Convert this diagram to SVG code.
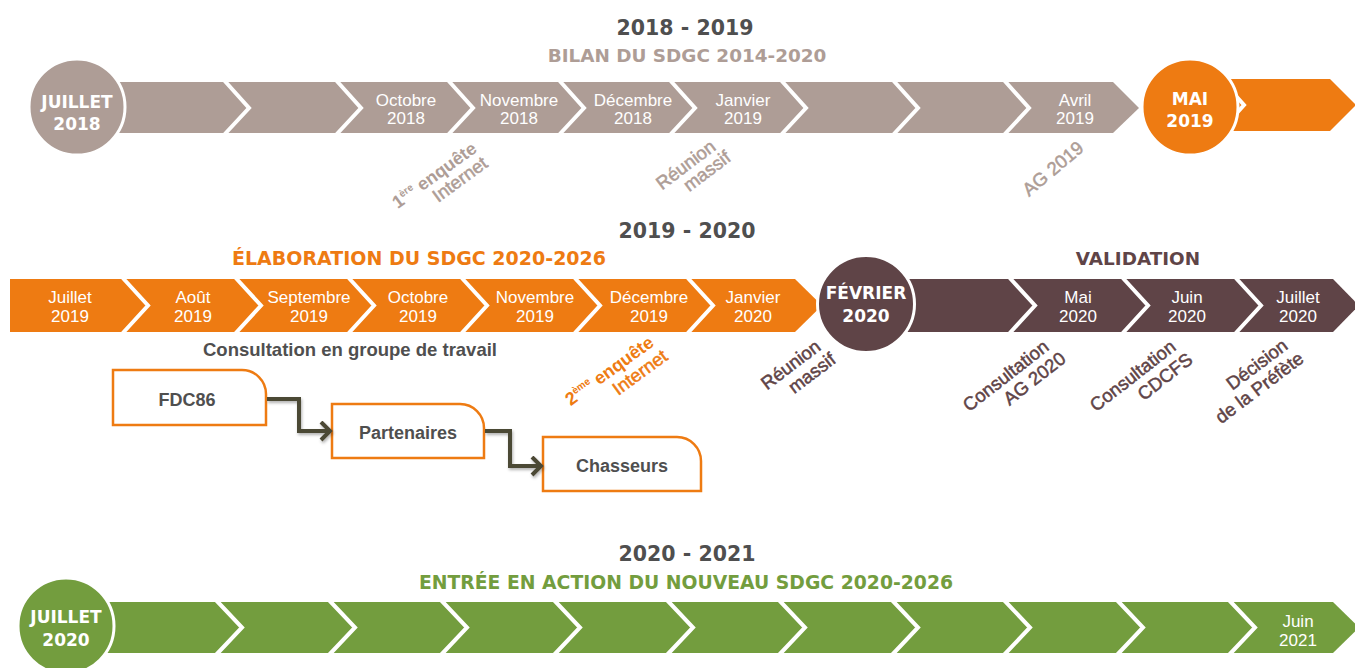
<svg xmlns="http://www.w3.org/2000/svg" width="1355" height="668" viewBox="0 0 1355 668">
<style>
.t{font-family:"DejaVu Sans",Verdana,sans-serif;font-weight:bold;text-anchor:middle}
.lbl{font-family:"Liberation Sans",Arial,sans-serif;font-size:17px;fill:#fff;text-anchor:middle}
.circ{font-family:"DejaVu Sans",Verdana,sans-serif;font-weight:bold;font-size:17px;fill:#fff;text-anchor:middle}
.gap{fill:none;stroke:#fff;stroke-width:4;stroke-linejoin:miter}
.ring{stroke:#fff;stroke-width:3}
.rot{font-family:"Liberation Sans",Arial,sans-serif;font-size:18.5px;text-anchor:end;stroke-width:0.5}
.rotb{font-family:"Liberation Sans",Arial,sans-serif;font-size:18px;font-weight:bold;text-anchor:end;stroke-width:0}
.box{fill:#fff;stroke:#ee7b12;stroke-width:2.5}
.boxt{font-family:"Liberation Sans",Arial,sans-serif;font-weight:bold;font-size:18px;fill:#4f4f4f;text-anchor:middle}
.conn{fill:none;stroke:#4c4835;stroke-width:4;stroke-linejoin:miter}
</style>
<defs>
<marker id="arr" markerUnits="userSpaceOnUse" markerWidth="16" markerHeight="22" refX="11" refY="10" orient="auto">
<path d="M2,1 L11,10 L2,19" fill="none" stroke="#4c4835" stroke-width="4"/>
</marker>
<filter id="sh" x="-20%" y="-20%" width="140%" height="160%">
<feDropShadow dx="1" dy="2" stdDeviation="1.5" flood-color="#000" flood-opacity="0.3"/>
</filter>
</defs>
<rect width="1355" height="668" fill="#fff"/>

<g id="titles">
<text class="t" x="685" y="35" font-size="20.5" fill="#4f4f4f">2018 - 2019</text>
<text class="t" x="687" y="62" font-size="18.4" fill="#ae9d96">BILAN DU SDGC 2014-2020</text>
<text class="t" x="687" y="238" font-size="20.5" fill="#4f4f4f">2019 - 2020</text>
<text class="t" x="419" y="265" font-size="19" fill="#ee7b12">ÉLABORATION DU SDGC 2020-2026</text>
<text class="t" x="1138" y="265" font-size="18.4" fill="#5f4447">VALIDATION</text>
<text class="t" x="687" y="561" font-size="20.5" fill="#4f4f4f">2020 - 2021</text>
<text class="t" x="686" y="589" font-size="18.8" fill="#739d3e">ENTRÉE EN ACTION DU NOUVEAU SDGC 2020-2026</text>
</g>

<g id="band-2018">
<polygon points="105,82 1113,82 1139,108 1113,133 105,133" fill="#ae9d96"/>
<polyline class="gap" points="223,79 249,108 223,136"/>
<polyline class="gap" points="335,79 361,108 335,136"/>
<polyline class="gap" points="447,79 473,108 447,136"/>
<polyline class="gap" points="558,79 584,108 558,136"/>
<polyline class="gap" points="669,79 695,108 669,136"/>
<polyline class="gap" points="780,79 806,108 780,136"/>
<polyline class="gap" points="892,79 918,108 892,136"/>
<polyline class="gap" points="1003,79 1029,108 1003,136"/>
<text class="lbl" x="406" y="106">Octobre</text><text class="lbl" x="406" y="124">2018</text>
<text class="lbl" x="519" y="106">Novembre</text><text class="lbl" x="519" y="124">2018</text>
<text class="lbl" x="633" y="106">Décembre</text><text class="lbl" x="633" y="124">2018</text>
<text class="lbl" x="743" y="106">Janvier</text><text class="lbl" x="743" y="124">2019</text>
<text class="lbl" x="1075" y="106">Avril</text><text class="lbl" x="1075" y="124">2019</text>
</g>
<g id="band-mai-2019">
<polygon points="1150,79 1330,79 1356,105 1330,131 1150,131" fill="#ee7b12"/>
<polyline class="gap" points="1218,76 1244,105 1218,134"/>
</g>
<g id="node-juillet-2018">
<circle class="ring" cx="77" cy="107" r="48" fill="#ae9d96"/>
<text class="circ" x="77" y="108">JUILLET</text><text class="circ" x="77" y="130">2018</text>
</g>
<g id="node-mai-2019">
<circle class="ring" cx="1190" cy="107" r="48" fill="#ee7b12"/>
<text class="circ" x="1190" y="105">MAI</text><text class="circ" x="1190" y="127">2019</text>
</g>
<g id="notes-2018" fill="#ae9d96" stroke="#ae9d96">
<text class="rotb" transform="translate(478,151) rotate(-36)">1<tspan font-size="10" dy="-7">ère</tspan><tspan dy="7"> enquête</tspan></text>
<text class="rot" transform="translate(489,166) rotate(-36)">Internet</text>
<text class="rot" transform="translate(717,149) rotate(-37)">Réunion</text>
<text class="rot" transform="translate(732,160) rotate(-37)">massif</text>
<text class="rot" transform="translate(1085,150) rotate(-40)">AG 2019</text>
</g>

<g id="band-elaboration">
<polygon points="10,279 795,279 822,305.5 795,332 10,332" fill="#ee7b12"/>
<polyline class="gap" points="121,276 148,305.5 121,335"/>
<polyline class="gap" points="234,276 261,305.5 234,335"/>
<polyline class="gap" points="347,276 374,305.5 347,335"/>
<polyline class="gap" points="460,276 487,305.5 460,335"/>
<polyline class="gap" points="573,276 600,305.5 573,335"/>
<polyline class="gap" points="686,276 713,305.5 686,335"/>
<text class="lbl" x="70" y="303">Juillet</text><text class="lbl" x="70" y="321.5">2019</text>
<text class="lbl" x="193" y="303">Août</text><text class="lbl" x="193" y="321.5">2019</text>
<text class="lbl" x="309" y="303">Septembre</text><text class="lbl" x="309" y="321.5">2019</text>
<text class="lbl" x="418" y="303">Octobre</text><text class="lbl" x="418" y="321.5">2019</text>
<text class="lbl" x="535" y="303">Novembre</text><text class="lbl" x="535" y="321.5">2019</text>
<text class="lbl" x="649" y="303">Décembre</text><text class="lbl" x="649" y="321.5">2019</text>
<text class="lbl" x="753" y="303">Janvier</text><text class="lbl" x="753" y="321.5">2020</text>
</g>
<g id="band-validation">
<polygon points="880,279 1333,279 1359,305.5 1333,332 880,332" fill="#5f4447"/>
<polyline class="gap" points="1008,276 1035,305.5 1008,335"/>
<polyline class="gap" points="1121,276 1148,305.5 1121,335"/>
<polyline class="gap" points="1234,276 1261,305.5 1234,335"/>
<text class="lbl" x="1078" y="303">Mai</text><text class="lbl" x="1078" y="321.5">2020</text>
<text class="lbl" x="1187" y="303">Juin</text><text class="lbl" x="1187" y="321.5">2020</text>
<text class="lbl" x="1298" y="303">Juillet</text><text class="lbl" x="1298" y="321.5">2020</text>
</g>
<g id="node-fevrier-2020">
<circle class="ring" cx="866" cy="304" r="48.5" fill="#5f4447"/>
<text class="circ" x="866" y="299">FÉVRIER</text><text class="circ" x="866" y="322">2020</text>
</g>
<text id="consultation-groupe" x="350" y="356" font-family="Liberation Sans, Arial, sans-serif" font-weight="bold" font-size="18.5" fill="#4f4f4f" text-anchor="middle">Consultation en groupe de travail</text>
<g id="notes-2019" fill="#ee7b12" stroke="#ee7b12">
<text class="rotb" transform="translate(655,345) rotate(-36)">2<tspan font-size="10" dy="-7">ème</tspan><tspan dy="7"> enquête</tspan></text>
<text class="rot" transform="translate(669,359) rotate(-36)">Internet</text>
</g>
<g id="notes-2020" fill="#5f4447" stroke="#5f4447">
<text class="rot" transform="translate(822,349) rotate(-37)">Réunion</text>
<text class="rot" transform="translate(837,362) rotate(-37)">massif</text>
<text class="rot" transform="translate(1050,349) rotate(-38)">Consultation</text>
<text class="rot" transform="translate(1067,361) rotate(-38)">AG 2020</text>
<text class="rot" transform="translate(1177,349) rotate(-38)">Consultation</text>
<text class="rot" transform="translate(1194,362) rotate(-38)">CDCFS</text>
<text class="rot" transform="translate(1289,348) rotate(-37)">Décision</text>
<text class="rot" transform="translate(1305,361) rotate(-37)">de la Préfète</text>
</g>

<g id="node-fdc86">
<path class="box" d="M113,370 H242 A24,24 0 0 1 266,394 V425 H113 Z"/>
<text class="boxt" x="187" y="406">FDC86</text>
</g>
<g id="node-partenaires">
<path class="box" d="M332,404 H460 A24,24 0 0 1 484,428 V458 H332 Z"/>
<text class="boxt" x="408" y="439">Partenaires</text>
</g>
<g id="node-chasseurs">
<path class="box" d="M543,437 H677 A24,24 0 0 1 701,461 V491 H543 Z"/>
<text class="boxt" x="622" y="472">Chasseurs</text>
</g>
<g id="connectors" filter="url(#sh)">
<path class="conn" d="M267,399 H299 V431 H330" marker-end="url(#arr)"/>
<path class="conn" d="M485,431 H510 V466 H541" marker-end="url(#arr)"/>
</g>

<g id="band-2020">
<polygon points="95,602 1333,602 1359,627.5 1333,653 95,653" fill="#739d3e"/>
<polyline class="gap" points="215,599 242,627.5 215,656"/>
<polyline class="gap" points="328,599 355,627.5 328,656"/>
<polyline class="gap" points="440,599 467,627.5 440,656"/>
<polyline class="gap" points="553,599 580,627.5 553,656"/>
<polyline class="gap" points="666,599 693,627.5 666,656"/>
<polyline class="gap" points="778,599 805,627.5 778,656"/>
<polyline class="gap" points="891,599 918,627.5 891,656"/>
<polyline class="gap" points="1003,599 1030,627.5 1003,656"/>
<polyline class="gap" points="1116,599 1143,627.5 1116,656"/>
<polyline class="gap" points="1228,599 1255,627.5 1228,656"/>
<text class="lbl" x="1298" y="627">Juin</text><text class="lbl" x="1298" y="646">2021</text>
</g>
<g id="node-juillet-2020">
<circle class="ring" cx="66" cy="626" r="48" fill="#739d3e"/>
<text class="circ" x="66" y="623">JUILLET</text><text class="circ" x="66" y="646">2020</text>
</g>
</svg>
